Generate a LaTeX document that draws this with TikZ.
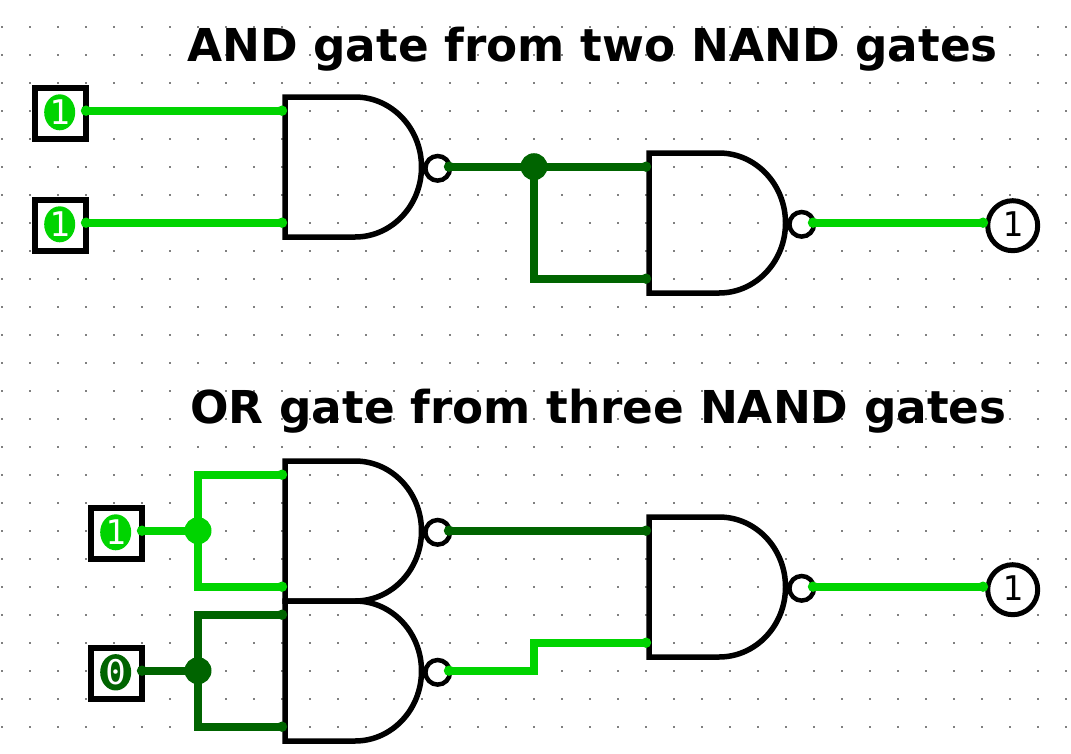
\documentclass[tikz,border=0pt]{standalone}
\usepackage{fontspec}
\usetikzlibrary{positioning,shapes.geometric,arrows.meta}
\newfontfamily\titlefont{DejaVu Sans}
\newfontfamily\bitfont{DejaVu Sans Mono}
\definecolor{wireon}{RGB}{0,212,0}
\definecolor{wireoff}{RGB}{0,100,0}
\tikzset{
  griddot/.style={fill=black!50},
  wire/.style={line width=8pt,{Circle[length=10pt]}-{Circle[length=10pt]},shorten <=-5pt,shorten >=-5pt},
  junction/.style={circle,minimum size=27pt,inner sep=0pt,outer sep=0pt},
  inbox/.style={draw,line width=6pt,fill=white,minimum size=51pt,inner sep=0pt,outer sep=0pt},
  bit/.style={ellipse,minimum width=31pt,minimum height=36pt,inner sep=0pt,text=white,font=\bitfont\fontsize{34}{34}\selectfont},
  outbox/.style={circle,draw,line width=5pt,fill=white,minimum size=50pt,inner sep=0pt,outer sep=0pt,text depth=3.4pt,font=\bitfont\fontsize{34}{34}\selectfont},
  title/.style={inner sep=0pt,font=\titlefont\bfseries\fontsize{45.3}{50}\selectfont},
  nand/.pic={
    \draw[line width=5.5pt] (70,0) -- (0,0) -- (0,140) -- (70,140) arc[start angle=90,end angle=-90,x radius=66.5,y radius=70];
    \draw[line width=4.5pt] (152.7,71.3) circle (12.3);
    \coordinate (-in1) at (-3,13.7);
    \coordinate (-in2) at (-3,125.7);
    \coordinate (-out) at (164,69.7);
  }
}
\begin{document}
\begin{tikzpicture}[x=1pt,y=-1pt]
    \useasboundingbox (0,0) rectangle (1071,753);
    \fill[white] (0,0) rectangle (1071,753);

    % Grid
    \foreach \i in {0,...,38}
      \foreach \j in {1,...,26}
        \fill[griddot] ({1+28*\i},{-2+28*\j}) rectangle ++(2,2);

    % Titles
    \node[title,anchor=base west] (title-and) at (187,61.5) {AND gate from two NAND gates};
    \node[title,anchor=base west] (title-or) at (190,423.5) {OR gate from three NAND gates};

    % Gates
    \pic (g1) at (285,97) {nand};
    \pic (g2) at (649,153) {nand};
    \pic (g3) at (285,461) {nand};
    \pic (g4) at (285,601) {nand};
    \pic (g5) at (649,517) {nand};

    % Inputs
    \node[inbox] (in1) at (60.5,113.5) {};
    \node[inbox] (in2) at (60.5,225.5) {};
    \node[inbox] (in3) at (116.5,533.5) {};
    \node[inbox] (in4) at (116.5,673.5) {};
    \node[bit,fill=wireon] (bit1) at (59.7,112.3) {1};
    \node[bit,fill=wireon] (bit2) at (59.7,224.3) {1};
    \node[bit,fill=wireon] (bit3) at (115.7,532.3) {1};
    \node[bit,fill=wireoff] (bit4) at (115.7,672.3) {0};

    % Outputs
    \node[outbox] (out1) at (1012.7,225.7) {1};
    \node[outbox] (out2) at (1012.7,589.7) {1};
    \coordinate (pin1) at (983,222.7);
    \coordinate (pin2) at (983,586.7);

    % Junctions
    \node[junction,fill=wireoff] (j1) at (534,166.7) {};
    \node[junction,fill=wireon] (j2) at (198,530.7) {};
    \node[junction,fill=wireoff] (j3) at (198,670.7) {};
    \coordinate (bend) at (534,642.7);

    % Wires
    \draw[wire,wireon] (in1.east |- g1-in1) -- (g1-in1);
    \draw[wire,wireon] (in2.east |- g1-in2) -- (g1-in2);
    \draw[wire,wireoff] (g1-out) -- (j1.center);
    \draw[wire,wireoff] (j1.center) -- (g2-in1);
    \draw[wire,wireoff] (j1.center) |- (g2-in2);
    \draw[wire,wireon] (g2-out) -- (pin1);

    \draw[wire,wireon] (in3.east |- j2) -- (j2.center);
    \draw[wire,wireon] (j2.center) |- (g3-in1);
    \draw[wire,wireon] (j2.center) |- (g3-in2);
    \draw[wire,wireoff] (in4.east |- j3) -- (j3.center);
    \draw[wire,wireoff] (j3.center) |- (g4-in1);
    \draw[wire,wireoff] (j3.center) |- (g4-in2);
    \draw[wire,wireoff] (g3-out) -- (g5-in1);
    \draw[wire,wireon] (g4-out) -| (bend) -- (g5-in2);
    \draw[wire,wireon] (g5-out) -- (pin2);
\end{tikzpicture}
\end{document}
